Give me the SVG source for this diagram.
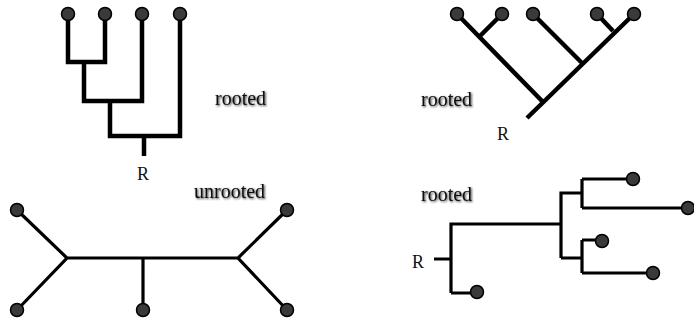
<svg xmlns="http://www.w3.org/2000/svg" width="694" height="320" viewBox="0 0 694 320">
  <defs>
    <filter id="soft" x="-20%" y="-40%" width="140%" height="180%">
      <feGaussianBlur in="SourceAlpha" stdDeviation="1.3" result="b"/>
      <feOffset in="b" dx="1" dy="1" result="o"/>
      <feComponentTransfer in="o" result="s"><feFuncA type="linear" slope="0.8"/></feComponentTransfer>
      <feMerge><feMergeNode in="s"/><feMergeNode in="SourceGraphic"/></feMerge>
    </filter>
  </defs>
  <style>
    .thick { fill: none; stroke: #000; stroke-width: 4.5; stroke-linecap: butt; stroke-linejoin: miter; }
    .thin { fill: none; stroke: #000; stroke-width: 3.2; stroke-linecap: butt; stroke-linejoin: miter; }
    .tip { fill: #3a3a3a; stroke: #000; stroke-width: 1.5; }
    .lbl { font-family: "Liberation Serif", "Times New Roman", serif; font-size: 20px; fill: #111; filter: url(#soft); }
    .root { font-family: "Liberation Serif", "Times New Roman", serif; font-size: 18px; fill: #111; }
  </style>
  <rect width="694" height="320" fill="#fff"/>

  <!-- top-left: rectangular rooted tree -->
  <g id="connectors">
    <path class="thick" d="M68,14 V62 H105 V14 M84,62 V101 H142 V14 M110,101 V136 H180 V14 M144,136 V156"/>
    <!-- top-right: slanted rooted tree -->
    <path class="thick" d="M527,118 L634,14 M457,14 L543,102 M502,14 L479,37 M533,14 L582,63 M597,14 L613,31"/>
    <!-- bottom-left: unrooted tree -->
    <path class="thin" d="M17,210 L67,258 L17,310 M67,258 H238 M143,258 V310 M287,210 L238,258 L287,310"/>
    <!-- bottom-right: horizontal rooted tree -->
    <path class="thin" d="M434,259 H451 M451,293 V224 H561 M451,293 H477 M561,258 V193 H582 M582,179 V208 M582,179 H633 M582,208 H688 M561,258 H582 M582,240 V273 M582,240 H602 M582,273 H653"/>
  </g>

  <g id="tl-tips">
    <circle class="tip" cx="68" cy="14" r="6.5"/>
    <circle class="tip" cx="105" cy="14" r="6.5"/>
    <circle class="tip" cx="142" cy="14" r="6.5"/>
    <circle class="tip" cx="180" cy="14" r="6.5"/>
  </g>
  <g id="tr-tips">
    <circle class="tip" cx="457" cy="14" r="6.5"/>
    <circle class="tip" cx="502" cy="14" r="6.5"/>
    <circle class="tip" cx="533" cy="14" r="6.5"/>
    <circle class="tip" cx="597" cy="14" r="6.5"/>
    <circle class="tip" cx="634" cy="14" r="6.5"/>
  </g>
  <g id="bl-tips">
    <circle class="tip" cx="17" cy="210" r="6.5"/>
    <circle class="tip" cx="17" cy="310" r="6.5"/>
    <circle class="tip" cx="143" cy="310" r="6.5"/>
    <circle class="tip" cx="287" cy="210" r="6.5"/>
    <circle class="tip" cx="287" cy="310" r="6.5"/>
  </g>
  <g id="br-tips">
    <circle class="tip" cx="633" cy="179" r="6.5"/>
    <circle class="tip" cx="688" cy="208" r="6.5"/>
    <circle class="tip" cx="602" cy="241" r="6.5"/>
    <circle class="tip" cx="653" cy="273" r="6.5"/>
    <circle class="tip" cx="477" cy="292" r="6.5"/>
  </g>

  <g id="labels">
    <text class="lbl" x="215" y="105">rooted</text>
    <text class="root" x="137" y="180">R</text>
    <text class="lbl" x="421" y="106">rooted</text>
    <text class="root" x="497" y="140">R</text>
    <text class="lbl" x="194" y="198">unrooted</text>
    <text class="lbl" x="421" y="201">rooted</text>
    <text class="root" x="412" y="268">R</text>
  </g>
</svg>
